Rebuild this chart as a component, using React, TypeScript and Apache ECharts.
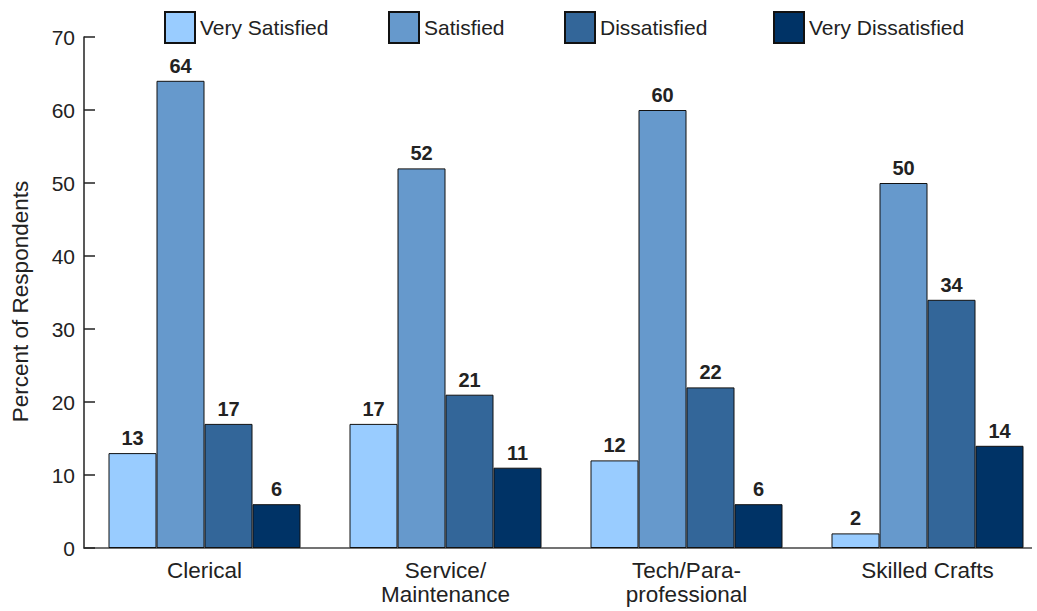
import React, { useEffect, useRef } from "react";
import * as echarts from "echarts";

const categories = ["Clerical", "Service/\nMaintenance", "Tech/Para-\nprofessional", "Skilled Crafts"];
const seriesNames = ["Very Satisfied", "Satisfied", "Dissatisfied", "Very Dissatisfied"];
const verySatisfied = [13, 17, 12, 2];
const satisfied = [64, 52, 60, 50];
const dissatisfied = [17, 21, 22, 34];
const veryDissatisfied = [6, 11, 6, 14];
const colors = ["#99CCFF", "#6699CC", "#336699", "#003366"];
const legendLeft = [159, 383, 559, 768];

const mainFont = "'Liberation Sans', Arial, sans-serif";

export default function App() {
  const ref = useRef<HTMLDivElement>(null);

  useEffect(() => {
    if (!ref.current) return;
    const chart = echarts.init(ref.current, undefined, { renderer: "svg" });
    const values = [verySatisfied, satisfied, dissatisfied, veryDissatisfied];

    chart.setOption({
      animation: false,
      backgroundColor: "#ffffff",
      textStyle: { fontFamily: mainFont },
      legend: seriesNames.map((name, i) => ({
        data: [name],
        left: legendLeft[i],
        top: 6,
        icon: "rect",
        itemWidth: 30,
        itemHeight: 31,
        selectedMode: false,
        textStyle: { fontFamily: mainFont, fontSize: 21, color: "#222" },
      })),
      // the plot area runs past the right edge; the svg clips the axis line there
      grid: { left: 84, top: 37, height: 511, width: 964, outerBoundsMode: "none" },
      xAxis: {
        type: "category",
        data: categories,
        axisLine: { lineStyle: { color: "#444", width: 1.5 } },
        axisTick: { show: false },
        axisLabel: {
          color: "#222",
          fontSize: 22.5,
          lineHeight: 24,
          margin: 10,
          fontFamily: mainFont,
        },
      },
      yAxis: {
        type: "value",
        min: 0,
        max: 70,
        interval: 10,
        name: "Percent of Respondents",
        nameLocation: "middle",
        nameGap: 52,
        nameTextStyle: {
          fontSize: 22.5,
          color: "#222",
          fontFamily: mainFont,
          padding: [0, 18, 0, 0],
        },
        axisLine: { show: true, lineStyle: { color: "#222", width: 1.5 } },
        axisTick: { show: true, inside: true, length: 11, lineStyle: { color: "#222", width: 1.5 } },
        splitLine: { show: false },
        axisLabel: { color: "#222", fontSize: 21, margin: 9, fontFamily: mainFont },
      },
      series: seriesNames.map((name, i) => ({
        name,
        type: "bar",
        data: values[i],
        barWidth: 48,
        barGap: "0%",
        itemStyle: { color: colors[i], borderColor: "#111", borderWidth: 1 },
        label: {
          show: true,
          position: "top",
          distance: 5,
          fontSize: 20,
          fontWeight: "bold",
          color: "#222",
          fontFamily: mainFont,
        },
      })),
    });

    return () => chart.dispose();
  }, []);

  return (
    <div
      ref={ref}
      style={{ position: "absolute", left: 0, top: 0, width: 1032, height: 611, overflow: "hidden" }}
    />
  );
}
